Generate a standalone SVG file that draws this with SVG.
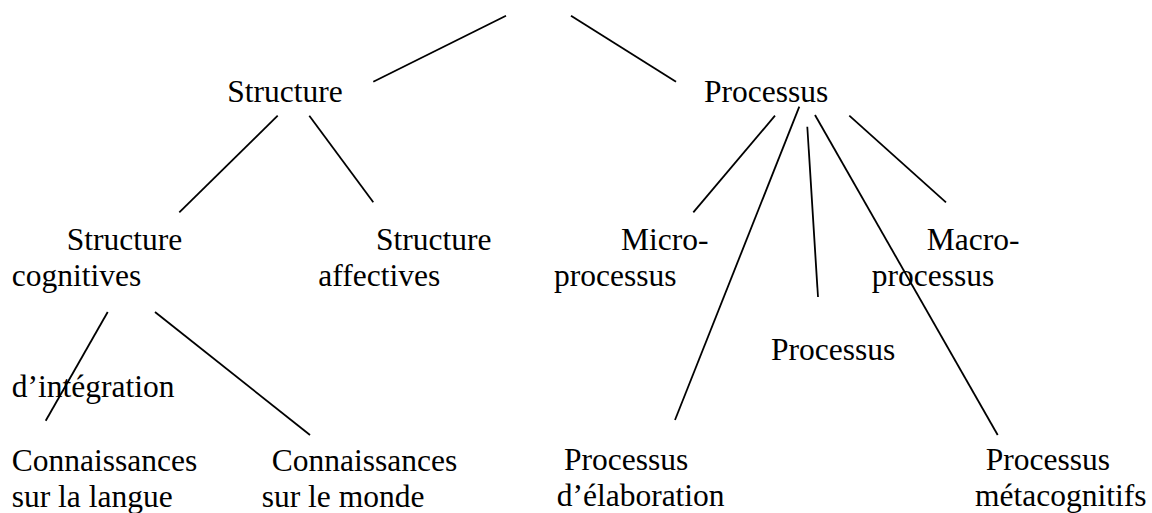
<svg xmlns="http://www.w3.org/2000/svg" width="1152" height="513" viewBox="0 0 1152 513">
<style>
text{font-family:"Liberation Serif","Times New Roman",serif;font-size:31.5px;fill:#000}
.c line{stroke:#000;stroke-width:1.8;stroke-linecap:butt}
</style>
<rect width="1152" height="513" fill="#fff"/>
<g class="c" id="connectors">
<line x1="506" y1="15.7" x2="373.3" y2="81.7"/>
<line x1="571" y1="15.7" x2="676" y2="81.7"/>
<line x1="277.7" y1="115.7" x2="179.3" y2="212.3"/>
<line x1="309.3" y1="115.7" x2="373.3" y2="202.3"/>
<line x1="107.7" y1="312" x2="45.7" y2="420.7"/>
<line x1="155" y1="312" x2="310" y2="435"/>
<line x1="775" y1="115.7" x2="693.3" y2="212.3"/>
<line x1="799.3" y1="106.7" x2="675" y2="420"/>
<line x1="807.3" y1="126.7" x2="818" y2="297"/>
<line x1="815" y1="115" x2="997.7" y2="435"/>
<line x1="849.3" y1="115.7" x2="946" y2="202.3"/>
</g>
<g id="structure"><text x="227.3" y="102">Structure</text></g>
<g id="processus"><text x="704" y="102">Processus</text></g>
<g id="structure-cognitives"><text x="66.7" y="250">Structure</text><text x="11.7" y="286">cognitives</text></g>
<g id="structure-affectives"><text x="376" y="250">Structure</text><text x="318.3" y="286">affectives</text></g>
<g id="micro-processus"><text x="621" y="250">Micro-</text><text x="554" y="286">processus</text></g>
<g id="macro-processus"><text x="926.7" y="250">Macro-</text><text x="871.7" y="286">processus</text></g>
<g id="processus-integration"><text x="771" y="360">Processus</text><text x="11.7" y="397">d’intégration</text></g>
<g id="connaissances-langue"><text x="11.7" y="471">Connaissances</text><text x="11.7" y="507">sur la langue</text></g>
<g id="connaissances-monde"><text x="271.7" y="471">Connaissances</text><text x="261.7" y="507">sur le monde</text></g>
<g id="processus-elaboration"><text x="564" y="470">Processus</text><text x="556.7" y="506">d’élaboration</text></g>
<g id="processus-metacognitifs"><text x="985.7" y="470">Processus</text><text x="975" y="506">métacognitifs</text></g>
</svg>
